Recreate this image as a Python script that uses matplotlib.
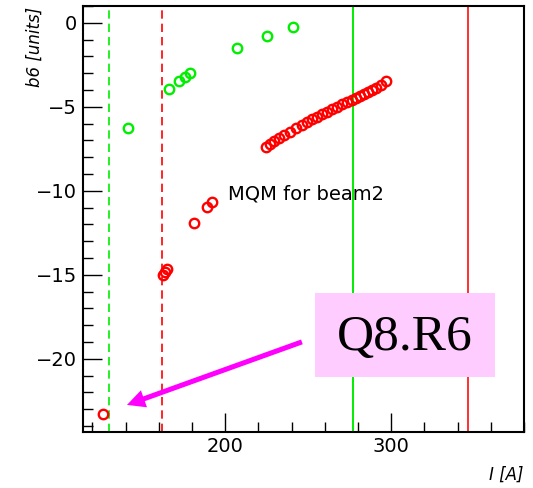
import matplotlib.pyplot as plt
from matplotlib.ticker import MultipleLocator

plt.rcParams['font.family'] = ['DejaVu Sans']

# b6 measurements vs current, MQM magnets for beam 2
green_I = [141.4, 166.1, 172.2, 175.7, 178.7, 207.0, 225.0, 240.8]
green_b6 = [-6.25, -3.93, -3.45, -3.21, -2.98, -1.49, -0.77, -0.24]

red_I = [126.4, 162.5, 163.7, 164.9, 181.4, 189.2, 192.2,
         224.5, 226.9, 229.3, 232.3, 235.3, 239.0, 242.6, 246.2, 249.2,
         252.2, 255.2, 258.3, 261.3, 264.3, 267.3, 270.3, 273.3, 276.3,
         278.7, 281.1, 283.5, 285.9, 288.4, 290.8, 293.8, 296.8]
red_b6 = [-23.3, -14.99, -14.82, -14.64, -11.9, -10.95, -10.65,
          -7.38, -7.20, -7.02, -6.85, -6.67, -6.49, -6.25, -6.07, -5.89,
          -5.71, -5.60, -5.42, -5.30, -5.12, -5.00, -4.82, -4.70, -4.58,
          -4.46, -4.35, -4.23, -4.11, -3.99, -3.87, -3.69, -3.45]

# current limits (dashed = minimum, solid = nominal)
green_lims = [130.1, 277.1]
red_lims = [161.7, 346.2]

fig = plt.figure(figsize=(5.33, 4.88), dpi=100)
ax = fig.add_axes([0.1557, 0.1148, 0.8273, 0.8729])

ax.axvline(green_lims[0], color='#00ee00', lw=1.2, ls=(0, (5, 3)))
ax.axvline(red_lims[0], color='#ff0000', lw=1.2, ls=(0, (5, 3)))
ax.axvline(green_lims[1], color='#00ee00', lw=1.4)
ax.axvline(red_lims[1], color='#ff3030', lw=1.4)

ax.plot(green_I, green_b6, 'o', ls='none', mfc='none', mec='#00ee00', ms=6.8, mew=1.7)
ax.plot(red_I, red_b6, 'o', ls='none', mfc='none', mec='#ff0000', ms=6.8, mew=1.7)

ax.set_xlim(114.3, 380)
ax.set_ylim(-24.35, 1.0)

ax.xaxis.set_major_locator(MultipleLocator(100))
ax.xaxis.set_minor_locator(MultipleLocator(20))
ax.yaxis.set_major_locator(MultipleLocator(5))
ax.yaxis.set_minor_locator(MultipleLocator(1))
ax.tick_params(which='both', direction='in', top=False, right=False, width=1.0,
               labelsize=14)
ax.tick_params(which='major', length=14)
ax.tick_params(which='minor', length=7.5)
ax.tick_params(axis='y', pad=4.5)
ax.tick_params(axis='x', pad=3.5)
for s in ax.spines.values():
    s.set_linewidth(1.5)

ax.text(-0.109, 0.998, 'b6 [units]', rotation=90, ha='center', va='top',
        style='italic', fontsize=12, transform=ax.transAxes)
ax.text(0.998, -0.101, 'I [A]', ha='right', va='center', style='italic',
        fontsize=12, transform=ax.transAxes)

ax.text(201.6, -10.54, 'MQM for beam2', fontsize=14, va='baseline')

# label box and arrow to the outlier
ax.annotate('', xy=(140.8, -22.74), xytext=(246.2, -18.99),
            arrowprops=dict(arrowstyle='simple,head_length=1.0,head_width=1.0,tail_width=0.28',
                            mutation_scale=13, color='#ff00ff', lw=0,
                            shrinkA=0, shrinkB=0))
ax.add_patch(plt.Rectangle((0.526, 0.129), 0.408, 0.197, transform=ax.transAxes,
                           facecolor='#ffccff', edgecolor='none', zorder=3))
ax.text(0.73, 0.222, 'Q8.R6', transform=ax.transAxes, ha='center', va='center',
        family='Liberation Serif', fontsize=37, zorder=4)

fig.savefig('out.png', dpi=100)
